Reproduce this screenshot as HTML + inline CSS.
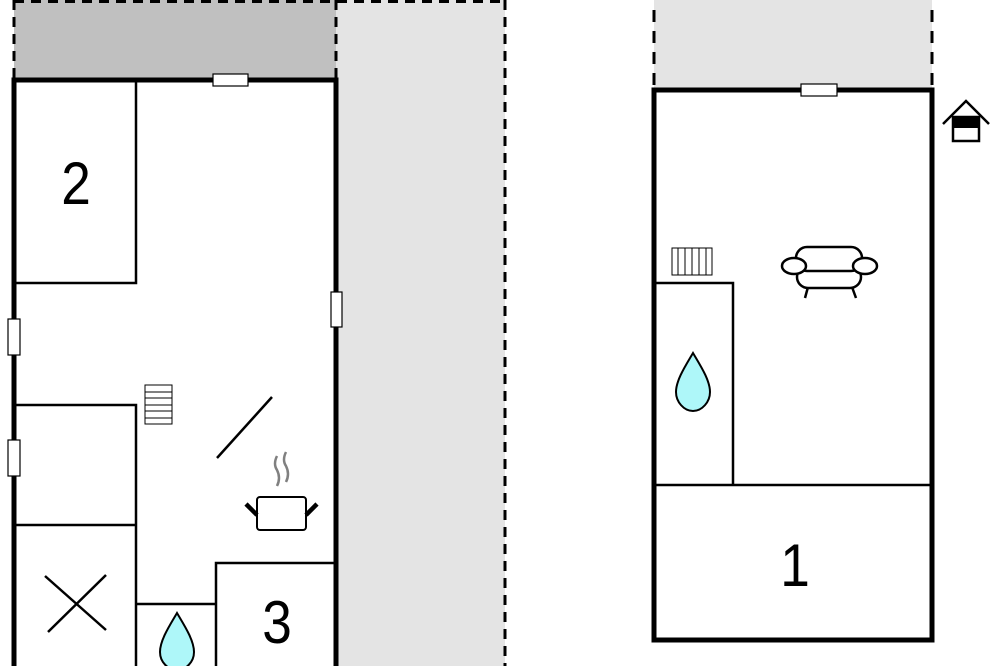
<!DOCTYPE html>
<html><head><meta charset="utf-8"><style>html,body{margin:0;padding:0;background:#fff}svg{display:block}</style></head>
<body>
<svg width="1000" height="666" viewBox="0 0 1000 666" xmlns="http://www.w3.org/2000/svg" font-family="Liberation Sans, sans-serif">
<rect x="14" y="0" width="322" height="80" fill="#c0c0c0"/>
<rect x="336" y="0" width="169" height="666" fill="#e4e4e4"/>
<g stroke="#000" stroke-width="3" stroke-dasharray="10,7" fill="none">
<line x1="14" y1="1.5" x2="505" y2="1.5"/>
<line x1="14" y1="0" x2="14" y2="80"/>
<line x1="336" y1="0" x2="336" y2="80"/>
<line x1="505" y1="0" x2="505" y2="666"/>
</g>
<rect x="14" y="80" width="322" height="600" fill="#fff"/>
<g stroke="#000" stroke-width="2.5" fill="none">
<polyline points="14,283 136,283 136,80"/>
<polyline points="14,405 136,405 136,666"/>
<line x1="14" y1="525" x2="136" y2="525"/>
<line x1="136" y1="604" x2="216" y2="604"/>
<polyline points="216,666 216,563 336,563"/>
<line x1="45" y1="576" x2="106" y2="630"/>
<line x1="48" y1="632" x2="106" y2="575"/>
<line x1="217" y1="458" x2="272" y2="397"/>
</g>
<g stroke="#000" stroke-width="5" fill="none">
<polyline points="14,666 14,80 336,80 336,666"/>
</g>
<g fill="#fff" stroke="#000" stroke-width="1.2">
<rect x="213" y="74" width="35" height="12"/>
<rect x="331" y="292" width="11" height="35"/>
<rect x="8" y="319" width="12" height="36"/>
<rect x="8" y="440" width="12" height="36"/>
</g>
<g stroke="#000" stroke-width="1" fill="#fff">
<rect x="145" y="385" width="27" height="39"/>
<line x1="145" y1="392" x2="172" y2="392"/><line x1="145" y1="398" x2="172" y2="398"/>
<line x1="145" y1="405" x2="172" y2="405"/><line x1="145" y1="411" x2="172" y2="411"/>
<line x1="145" y1="418" x2="172" y2="418"/>
</g>
<g stroke="#808080" stroke-width="2.5" fill="none">
<path d="M277,456 q-4,8 0,14 q4,8 0,16"/>
<path d="M286,452 q-4,8 0,14 q4,8 0,16"/>
</g>
<rect x="257" y="497" width="49" height="33" rx="3" fill="#fff" stroke="#000" stroke-width="2"/>
<g stroke="#000" stroke-width="4.5"><line x1="246" y1="504" x2="257" y2="515"/><line x1="317" y1="504" x2="306" y2="515"/></g>
<path d="M177,613 C170,625 160,640 160,652 C160,662 168,670 177,670 C186,670 194,662 194,652 C194,640 184,625 177,613 Z" fill="#aef7f9" stroke="#000" stroke-width="2"/>
<text x="76" y="204" font-size="56" text-anchor="middle" transform="translate(76,204) scale(0.95,1.08) translate(-76,-204)">2</text>
<text x="277" y="643" font-size="56" text-anchor="middle" transform="translate(277,643) scale(0.95,1.08) translate(-277,-643)">3</text>

<rect x="654" y="0" width="278" height="90" fill="#e4e4e4"/>
<g stroke="#000" stroke-width="3" stroke-dasharray="12,9"><line x1="654" y1="10" x2="654" y2="90"/><line x1="932" y1="10" x2="932" y2="90"/></g>
<rect x="654" y="90" width="278" height="550" fill="#fff" stroke="#000" stroke-width="5"/>
<g stroke="#000" stroke-width="2.5" fill="none">
<line x1="654" y1="485" x2="932" y2="485"/>
<polyline points="654,283 733,283 733,485"/>
</g>
<rect x="801" y="84" width="36" height="12" fill="#fff" stroke="#000" stroke-width="1.2"/>
<g stroke="#000" stroke-width="1" fill="#fff">
<rect x="672" y="248" width="40" height="27"/>
<line x1="678" y1="248" x2="678" y2="275"/><line x1="685" y1="248" x2="685" y2="275"/>
<line x1="692" y1="248" x2="692" y2="275"/><line x1="699" y1="248" x2="699" y2="275"/>
<line x1="706" y1="248" x2="706" y2="275"/>
</g>
<g stroke="#000" stroke-width="2.5" fill="#fff">
<line x1="808" y1="287" x2="805" y2="298"/><line x1="852" y1="287" x2="856" y2="298"/>
<rect x="797" y="266" width="64" height="22" rx="11"/>
<rect x="796" y="247" width="66" height="24" rx="11"/>
<ellipse cx="794" cy="266" rx="12" ry="8"/>
<ellipse cx="865" cy="266" rx="12" ry="8"/>
</g>
<path d="M693,353 C686,365 676,380 676,392 C676,402 684,411 693,411 C702,411 710,402 710,392 C710,380 700,365 693,353 Z" fill="#aef7f9" stroke="#000" stroke-width="2"/>
<text x="795" y="586" font-size="56" text-anchor="middle" transform="translate(795,586) scale(0.95,1.08) translate(-795,-586)">1</text>
<g stroke="#000" stroke-width="2.5" fill="none">
<polyline points="943,124 966,101 989,124"/>
<rect x="953" y="117" width="26" height="24" fill="#fff"/>
</g>
<rect x="953" y="117" width="26" height="11" fill="#000"/>
</svg>
</body></html>
